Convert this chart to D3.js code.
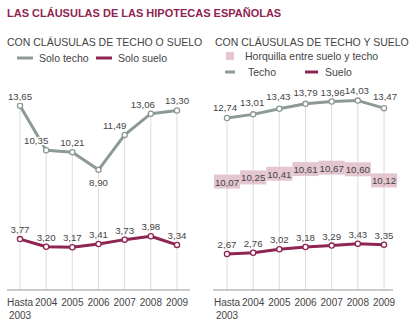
<!DOCTYPE html>
<html lang="es">
<head>
<meta charset="utf-8">
<title>Las cláusulas de las hipotecas españolas</title>
<script src="https://d3js.org/d3.v7.min.js"></script>
<style>
  body { margin: 0; background: #fff; }
  text { font-family: "Liberation Sans", Arial, sans-serif; }
</style>
</head>
<body>
<div id="chart"></div>
<script>
// ---- data ----
const years = ["Hasta 2003", "2004", "2005", "2006", "2007", "2008", "2009"];

// con cláusulas de techo o suelo
const soloTecho = [13.65, 10.35, 10.21, 8.90, 11.49, 13.06, 13.30];
const soloSuelo = [3.77, 3.20, 3.17, 3.41, 3.73, 3.98, 3.34];

// con cláusulas de techo y suelo
const techo = [12.74, 13.01, 13.43, 13.79, 13.96, 14.03, 13.47];
const horquilla = [10.07, 10.25, 10.41, 10.61, 10.67, 10.60, 10.12];
const suelo = [2.67, 2.76, 3.02, 3.18, 3.29, 3.43, 3.35];

const W = 414, H = 325;
const cTecho = "#8c9a95", cSuelo = "#8f2552", cBox = "#e4c6d1", cText = "#444";

const fmt = v => d3.format(".2f")(v).replace(".", ",");

const svg = d3.select("#chart").append("svg")
  .attr("width", W).attr("height", H);

// title
svg.append("text")
  .attr("x", 7).attr("y", 17)
  .style("font-size", "11px").style("font-weight", "bold")
  .attr("fill", cSuelo)
  .text("LAS CLÁUSULAS DE LAS HIPOTECAS ESPAÑOLAS");

// shared y scale
const y = d3.scaleLinear().domain([0, 14]).range([290, 101]);
// scale for the pink horquilla labels
const yBand = d3.scaleLinear().domain([10, 10.7]).range([183.2, 167]);

const xL = d3.scalePoint().domain(years).range([20, 177]);
const xR = d3.scalePoint().domain(years).range([227, 384]);

const line = (x) => d3.line().x((d, i) => x(years[i])).y(d => y(d));

function label(g, x, vals, dy, shifts, halo) {
  g.selectAll(null).data(vals).join("text")
    .attr("x", (d, i) => x(years[i]) + ((shifts && shifts[i]) || 0))
    .attr("y", (d, i) => y(d) + (Array.isArray(dy) ? dy[i] : dy))
    .attr("text-anchor", "middle")
    .style("font-size", "9.7px")
    .attr("fill", cText)
    .attr("stroke", halo ? "#fff" : "none").attr("stroke-width", 3)
    .attr("paint-order", "stroke")
    .text(d => fmt(d));
}

function panel(x, top, bottom, axisX0, axisX1) {
  const g = svg.append("g");
  // vertical grid lines from top series to axis
  g.selectAll(null).data(top).join("line")
    .attr("x1", (d, i) => x(years[i])).attr("x2", (d, i) => x(years[i]))
    .attr("y1", d => y(d)).attr("y2", y(0))
    .attr("stroke", "#dcdcdc").attr("stroke-width", 1);
  // axis
  g.append("line")
    .attr("x1", axisX0).attr("x2", axisX1)
    .attr("y1", y(0)).attr("y2", y(0))
    .attr("stroke", "#9a9a9a");
  // year labels
  const t = g.selectAll(null).data(years).join("text")
    .attr("x", d => x(d)).attr("y", 306)
    .attr("text-anchor", "middle")
    .style("font-size", "10px").attr("fill", cText);
  t.each(function(d) {
    const parts = d.split(" ");
    d3.select(this).selectAll("tspan").data(parts).join("tspan")
      .attr("x", x(d)).attr("dy", (p, i) => i ? 13 : 0)
      .text(p => p);
  });
  return g;
}

function series(g, x, vals, color) {
  g.append("path").datum(vals)
    .attr("d", line(x))
    .attr("fill", "none").attr("stroke", color)
    .attr("stroke-width", 3).attr("stroke-linejoin", "round");
  g.selectAll(null).data(vals).join("circle")
    .attr("cx", (d, i) => x(years[i])).attr("cy", d => y(d))
    .attr("r", 2.6).attr("fill", "#fff")
    .attr("stroke", color).attr("stroke-width", 1.3);
}

// ---- left panel ----
const gL = panel(xL, soloTecho, soloSuelo, 7, 190);
svg.append("text").attr("x", 7).attr("y", 46)
  .style("font-size", "10.5px").attr("fill", cText)
  .text("CON CLÁUSULAS DE TECHO O SUELO");
series(gL, xL, soloTecho, cTecho);
series(gL, xL, soloSuelo, cSuelo);
label(gL, xL, soloTecho, [-6, -6, -6, 16, -6, -6, -6], [0, -10, 0, 0, -10, -8, 0], true);
label(gL, xL, soloSuelo, -6);

// left legend
gL.append("line").attr("x1", 17).attr("x2", 33).attr("y1", 58).attr("y2", 58)
  .attr("stroke", cTecho).attr("stroke-width", 3);
gL.append("text").attr("x", 39).attr("y", 62).style("font-size", "10.5px")
  .attr("fill", cText).text("Solo techo");
gL.append("line").attr("x1", 96).attr("x2", 112).attr("y1", 58).attr("y2", 58)
  .attr("stroke", cSuelo).attr("stroke-width", 3);
gL.append("text").attr("x", 118).attr("y", 62).style("font-size", "10.5px")
  .attr("fill", cText).text("Solo suelo");

// ---- right panel ----
const gR = panel(xR, techo, suelo, 213, 393);
svg.append("text").attr("x", 215).attr("y", 46)
  .style("font-size", "10.5px").attr("fill", cText)
  .text("CON CLÁUSULAS DE TECHO Y SUELO");

// horquilla boxes
const step = xR.step();
const boxH = 14;
const hb = gR.selectAll(null).data(horquilla).join("g")
  .attr("transform", (d, i) => `translate(${xR(years[i])},${yBand(d)})`);
hb.append("rect")
  .attr("x", -step / 2).attr("y", -boxH / 2)
  .attr("width", step).attr("height", boxH)
  .attr("fill", cBox);
hb.append("text")
  .attr("y", 4).attr("text-anchor", "middle")
  .style("font-size", "9.7px").attr("fill", cText)
  .text(d => fmt(d));

series(gR, xR, techo, cTecho);
series(gR, xR, suelo, cSuelo);
label(gR, xR, techo, [-7, -8, -9, -8, -6, -7, -8], [-2, -1, -1, 0, 1, -1, 1]);
label(gR, xR, suelo, -6);

// right legend
gR.append("rect").attr("x", 226).attr("y", 52).attr("width", 8).attr("height", 8)
  .attr("fill", cBox);
gR.append("text").attr("x", 245).attr("y", 60).style("font-size", "10.5px")
  .attr("fill", cText).text("Horquilla entre suelo y techo");
gR.append("line").attr("x1", 225).attr("x2", 235).attr("y1", 72).attr("y2", 72)
  .attr("stroke", cTecho).attr("stroke-width", 3);
gR.append("text").attr("x", 248).attr("y", 76).style("font-size", "10.5px")
  .attr("fill", cText).text("Techo");
gR.append("line").attr("x1", 305).attr("x2", 318).attr("y1", 72).attr("y2", 72)
  .attr("stroke", cSuelo).attr("stroke-width", 3);
gR.append("text").attr("x", 325).attr("y", 76).style("font-size", "10.5px")
  .attr("fill", cText).text("Suelo");
</script>
</body>
</html>
